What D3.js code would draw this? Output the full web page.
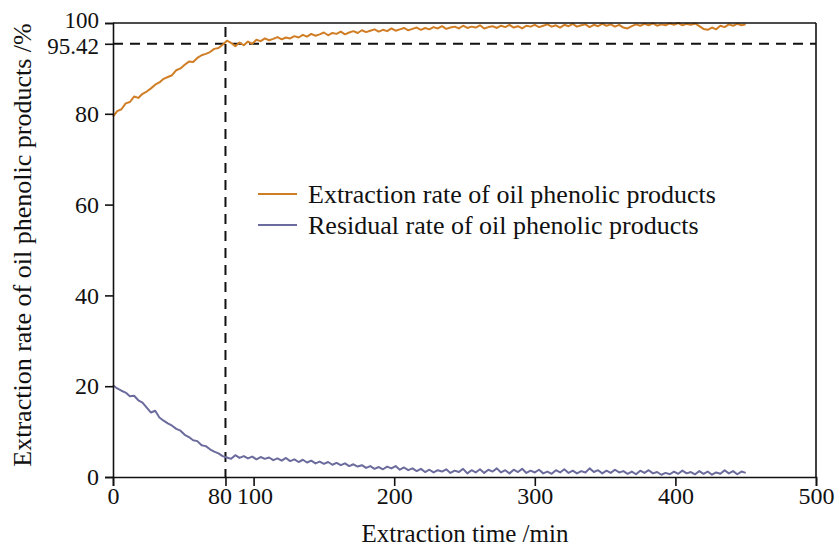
<!DOCTYPE html>
<html>
<head>
<meta charset="utf-8">
<script src="https://cdn.jsdelivr.net/npm/d3@7"></script>
<style>
  html, body { margin: 0; padding: 0; background: #fff; }
  svg { display: block; }
  text { font-family: "Liberation Serif", "Times New Roman", serif; fill: #111; }
</style>
</head>
<body>
<svg id="chart" width="837" height="550"></svg>
<script>
// ---- data ----
const timeStep = 3; // minutes between samples, starting at 0
const extractionRate = [
  79.4,80.6,81.0,82.3,82.6,83.8,83.5,84.4,84.9,85.6,86.4,86.9,87.7,88.1,88.5,89.6,90.0,90.8,91.5,91.4,
  92.3,92.9,93.2,93.6,94.3,94.5,95.2,96.1,95.6,94.9,95.7,95.1,95.9,95.4,96.3,96.0,96.6,96.2,96.5,96.9,
  96.4,96.8,96.6,97.1,96.8,97.4,97.0,97.6,97.2,97.5,97.9,97.3,97.8,97.6,98.1,97.5,97.9,98.2,97.8,98.4,
  98.0,98.3,98.6,98.1,98.5,98.2,98.8,98.3,98.6,98.9,98.4,98.7,99.0,98.5,98.9,98.6,99.1,98.8,99.3,98.7,
  99.0,99.2,98.8,99.4,98.9,99.2,99.0,99.5,98.8,99.1,99.3,98.9,99.4,99.1,99.6,99.0,99.3,98.8,99.4,99.2,
  99.6,99.1,99.4,99.7,99.2,99.5,99.0,99.6,99.3,99.8,99.2,99.5,99.7,99.1,99.6,99.3,99.8,99.4,99.7,99.2,
  99.6,99.0,98.8,99.3,99.7,99.4,99.8,99.5,99.9,99.4,99.7,99.5,99.9,99.6,100.0,99.5,99.8,99.6,99.9,99.3,
  98.7,98.5,99.0,98.6,99.4,99.1,99.7,99.4,99.8,99.5,99.7
];
const residualRate = [
  20.2,19.5,19.0,18.6,17.8,17.9,16.9,16.4,15.3,14.2,14.6,13.1,12.4,11.8,11.3,10.6,10.2,9.3,8.8,8.1,
  7.9,7.0,6.8,6.1,5.6,5.2,4.6,4.3,4.0,4.8,4.2,4.6,4.1,4.5,3.9,4.4,4.0,4.3,3.7,4.1,
  3.6,4.2,3.5,3.9,3.3,3.8,3.2,3.6,3.0,3.4,2.9,3.3,2.7,3.1,2.6,3.0,2.4,2.8,2.3,2.6,
  2.0,2.4,1.8,2.2,1.7,2.3,1.9,2.4,1.6,2.1,1.5,1.9,1.3,1.8,1.1,1.6,1.0,1.5,1.2,1.7,
  0.9,1.4,1.1,1.8,0.8,1.5,1.0,1.7,0.9,1.6,1.2,1.9,1.0,1.5,0.8,1.6,1.1,1.8,0.9,1.4,
  1.0,1.6,0.8,1.2,0.7,1.5,1.0,1.7,0.9,1.4,0.8,1.3,1.0,1.9,1.1,1.5,0.8,1.4,0.9,1.6,
  1.0,1.3,0.7,1.2,0.6,1.4,0.9,1.5,0.8,1.1,0.5,0.9,0.6,1.2,0.7,1.4,0.8,1.1,0.6,1.3,
  0.7,1.2,0.5,1.0,0.7,1.5,0.8,1.3,0.6,1.2,0.9
];
const xTicks = [0, 80, 100, 200, 300, 400, 500];
const yTicks = [0, 20, 40, 60, 80, 95.42, 100];
const markerTime = 80;
const markerRate = 95.42;
const seriesNames = ["Extraction rate of oil phenolic products", "Residual rate of oil phenolic products"];
const seriesColors = ["#d07e26", "#6b6b9d"];
const xTitle = "Extraction time /min";
const yTitle = "Extraction rate of oil phenolic products /%";

// ---- layout ----
const svg = d3.select("#chart");
const mLeft = 113, mRight = 816, mTop = 23, mBottom = 477;
const x = d3.scaleLinear().domain([0, 500]).range([mLeft, mRight]);
const y = d3.scaleLinear().domain([0, 100]).range([mBottom, mTop]);

// reference dashed lines
svg.append("line")
  .attr("x1", x(0)).attr("x2", x(500)).attr("y1", y(markerRate)).attr("y2", y(markerRate))
  .attr("stroke", "#111").attr("stroke-width", 2).attr("stroke-dasharray", "10,7");
svg.append("line")
  .attr("x1", x(markerTime)).attr("x2", x(markerTime)).attr("y1", y(100) + 4).attr("y2", y(0))
  .attr("stroke", "#111").attr("stroke-width", 2).attr("stroke-dasharray", "10,7");

// series lines
const line = d3.line().x((d, i) => x(i * timeStep)).y(d => y(d));
svg.append("path").datum(extractionRate).attr("d", line)
  .attr("fill", "none").attr("stroke", seriesColors[0]).attr("stroke-width", 2).attr("stroke-linejoin", "round");
svg.append("path").datum(residualRate).attr("d", line)
  .attr("fill", "none").attr("stroke", seriesColors[1]).attr("stroke-width", 2).attr("stroke-linejoin", "round");

// axes
const xAxis = svg.append("g").attr("transform", `translate(0,${mBottom})`)
  .call(d3.axisBottom(x).tickValues(xTicks).tickSize(9).tickPadding(1).tickFormat(d3.format("d")));
const yAxis = svg.append("g").attr("transform", `translate(${mLeft},0)`)
  .call(d3.axisLeft(y).tickValues(yTicks).tickSize(8).tickPadding(6).tickFormat(d => d === 95.42 ? "95.42" : d3.format("d")(d)));
[xAxis, yAxis].forEach(g => {
  g.select(".domain").attr("stroke", "#111").attr("stroke-width", 1.6);
  g.selectAll(".tick line").attr("stroke", "#111").attr("stroke-width", 1.6);
  g.selectAll(".tick text").attr("font-size", 24).attr("font-family", "Liberation Serif").attr("fill", "#111");
});
xAxis.selectAll(".tick").filter(d => d === 80).select("text").attr("dx", -6);
xAxis.selectAll(".tick").filter(d => d === 100).select("text").attr("dx", 1);
yAxis.selectAll(".tick").filter(d => d === 100).select("text").attr("font-size", 23).attr("dy", "0.2em");
yAxis.selectAll(".tick").filter(d => d === 95.42).select("text").attr("font-size", 23).attr("dy", "0.42em");

// frame top and right
svg.append("line").attr("x1", mLeft).attr("x2", mRight).attr("y1", mTop).attr("y2", mTop)
  .attr("stroke", "#111").attr("stroke-width", 1.6);
svg.append("line").attr("x1", mRight).attr("x2", mRight).attr("y1", mTop).attr("y2", mBottom)
  .attr("stroke", "#111").attr("stroke-width", 1.6);

// axis titles
svg.append("text").attr("x", 465).attr("y", 542).attr("text-anchor", "middle")
  .attr("font-size", 25).text(xTitle);
svg.append("text").attr("transform", "translate(31,245) rotate(-90)").attr("text-anchor", "middle")
  .attr("font-size", 26).text(yTitle);

// legend
const legend = svg.append("g");
seriesNames.forEach((name, i) => {
  const yy = 203 + i * 31;
  legend.append("line").attr("x1", 258).attr("x2", 297).attr("y1", yy - 9).attr("y2", yy - 9)
    .attr("stroke", seriesColors[i]).attr("stroke-width", 2);
  legend.append("text").attr("x", 308).attr("y", yy).attr("font-size", 26).text(name);
});
</script>
</body>
</html>
